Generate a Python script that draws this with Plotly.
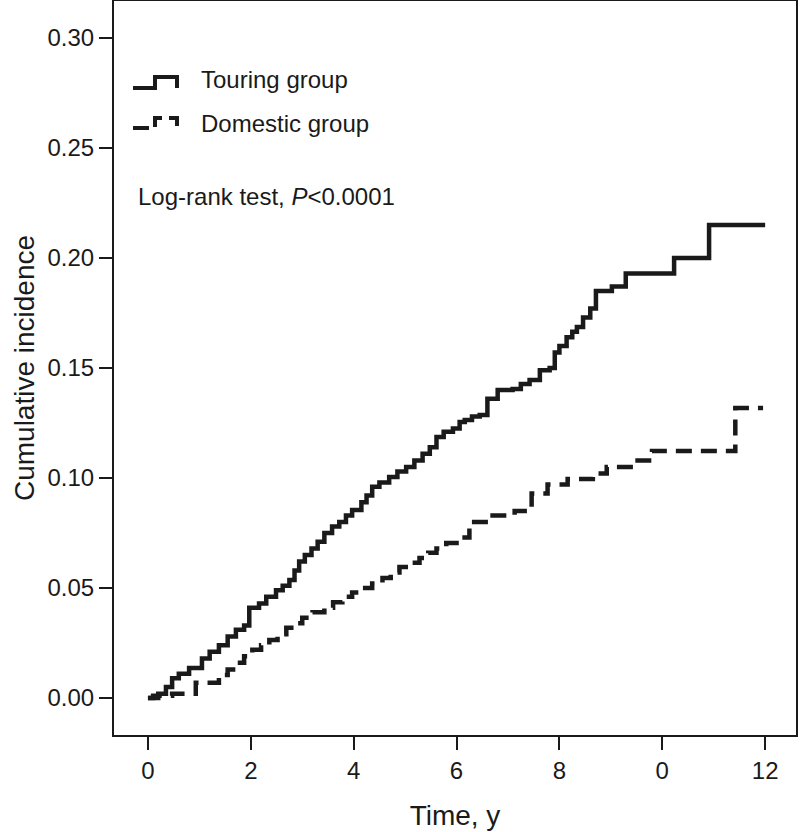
import plotly.graph_objects as go

# Touring group (solid) – cumulative incidence steps
touring_t = [0, 0.1, 0.2, 0.35, 0.47, 0.6, 0.8, 1.05, 1.2, 1.38, 1.55, 1.71, 1.87, 1.97, 2.16,
             2.3, 2.49, 2.62, 2.75, 2.85, 2.94, 3.05, 3.18, 3.3, 3.43, 3.58, 3.72, 3.85, 3.97,
             4.15, 4.25, 4.36, 4.5, 4.69, 4.85, 5.02, 5.18, 5.34, 5.48, 5.61, 5.75, 5.93, 6.06,
             6.16, 6.3, 6.45, 6.6, 6.8, 7.09, 7.25, 7.42, 7.62, 7.81, 7.91, 8.0, 8.14, 8.25,
             8.34, 8.46, 8.6, 8.71, 9.02, 9.29, 10.23, 10.91, 12.0]
touring_y = [0.0, 0.001, 0.002, 0.005, 0.009, 0.011, 0.0136, 0.018, 0.021, 0.024, 0.028, 0.031,
             0.033, 0.041, 0.043, 0.046, 0.049, 0.051, 0.0536, 0.058, 0.062, 0.065, 0.068, 0.071,
             0.075, 0.078, 0.080, 0.083, 0.0855, 0.089, 0.092, 0.096, 0.098, 0.1005, 0.103, 0.105,
             0.108, 0.111, 0.114, 0.1186, 0.121, 0.1225, 0.1255, 0.1264, 0.128, 0.1286, 0.136,
             0.140, 0.1405, 0.1427, 0.1445, 0.149, 0.150, 0.157, 0.160, 0.164, 0.1665, 0.1686,
             0.173, 0.177, 0.185, 0.187, 0.193, 0.200, 0.215, 0.215]

# Domestic group (dashed)
domestic_t = [0, 0.2, 0.47, 0.93, 1.13, 1.38, 1.55, 1.71, 1.87, 2.03, 2.2, 2.36, 2.52, 2.69,
              2.85, 3.0, 3.2, 3.43, 3.6, 3.78, 3.97, 4.17, 4.36, 4.56, 4.72, 4.89, 5.08, 5.28,
              5.45, 5.61, 5.8, 6.0, 6.25, 6.64, 7.13, 7.29, 7.46, 7.77, 8.16, 8.65, 8.92, 9.43,
              9.80, 11.42, 11.96]
domestic_y = [0.0, 0.001, 0.002, 0.007, 0.007, 0.0105, 0.013, 0.016, 0.019, 0.022, 0.024, 0.0264,
              0.029, 0.032, 0.034, 0.0365, 0.039, 0.041, 0.0435, 0.046, 0.048, 0.050, 0.052,
              0.0545, 0.057, 0.0595, 0.0615, 0.0636, 0.066, 0.068, 0.0705, 0.073, 0.080, 0.083,
              0.085, 0.085, 0.093, 0.097, 0.0995, 0.102, 0.105, 0.108, 0.1123, 0.1318, 0.1318]

x_tickvals = [0, 2, 4, 6, 8, 10, 12]
x_ticktext = ["0", "2", "4", "6", "8", "0", "12"]
y_tickvals = [0.00, 0.05, 0.10, 0.15, 0.20, 0.25, 0.30]

W, H = 800, 832
ML, MR, MT, MB = 114, 4, 1, 97
PW, PH = W - ML - MR, H - MT - MB


def px(x):
    return (x - ML) / PW


def py(y):
    return 1 - (y - MT) / PH


FONT = "Liberation Sans, Arial, Helvetica, sans-serif"
INK = "#1a1a1a"

fig = go.Figure()
fig.add_trace(go.Scatter(x=touring_t, y=touring_y, mode="lines", line_shape="hv",
                         line=dict(color=INK, width=4.5), showlegend=False,
                         name="Touring group"))
fig.add_trace(go.Scatter(x=domestic_t, y=domestic_y, mode="lines", line_shape="hv",
                         line=dict(color=INK, width=4.5, dash="16px,9px"),
                         showlegend=False, name="Domestic group"))


# legend glyphs
def glyph(y_low, y_high, dash):
    path = (f"M {px(133)},{py(y_low)} L {px(155)},{py(y_low)} L {px(155)},{py(y_high)} "
            f"L {px(177)},{py(y_high)} L {px(177)},{py(y_low)}")
    return dict(type="path", xref="paper", yref="paper", path=path,
                line=dict(color=INK, width=4, dash=dash))


fig.add_shape(glyph(88, 77, "solid"))
fig.add_shape(glyph(128, 118, "16px,7px"))

annots = [
    ("Touring group", 199, 80),
    ("Domestic group", 199, 123),
    ("Log-rank test, <i>P</i><0.0001", 136, 196),
]
for text, x, y in annots:
    fig.add_annotation(text=text, xref="paper", yref="paper", x=px(x), y=py(y),
                       xanchor="left", yanchor="middle", showarrow=False,
                       font=dict(family=FONT, size=24, color=INK))

fig.update_layout(
    width=W, height=H,
    margin=dict(l=ML, r=MR, t=MT, b=MB, autoexpand=False),
    paper_bgcolor="white", plot_bgcolor="white",
    font=dict(family=FONT, size=24, color=INK),
    xaxis=dict(range=[-0.66, 12.6], tickvals=x_tickvals, ticktext=x_ticktext,
               ticks="outside", ticklen=13, tickwidth=1.5, tickcolor=INK,
               tickfont=dict(size=24),
               showline=True, mirror=True, linewidth=2, linecolor=INK,
               showgrid=False, zeroline=False,
               title=dict(text="Time, y", font=dict(size=28), standoff=23)),
    yaxis=dict(range=[-0.0168, 0.3168], tickvals=y_tickvals, tickformat=".2f",
               ticks="outside", ticklen=13, tickwidth=1.5, tickcolor=INK,
               tickfont=dict(size=24),
               showline=True, mirror=True, linewidth=2, linecolor=INK,
               showgrid=False, zeroline=False,
               title=dict(text="Cumulative incidence", font=dict(size=28), standoff=5)),
)

fig.write_html("out.html", config={"displayModeBar": False},
               post_script="document.body.style.margin='0px';")
